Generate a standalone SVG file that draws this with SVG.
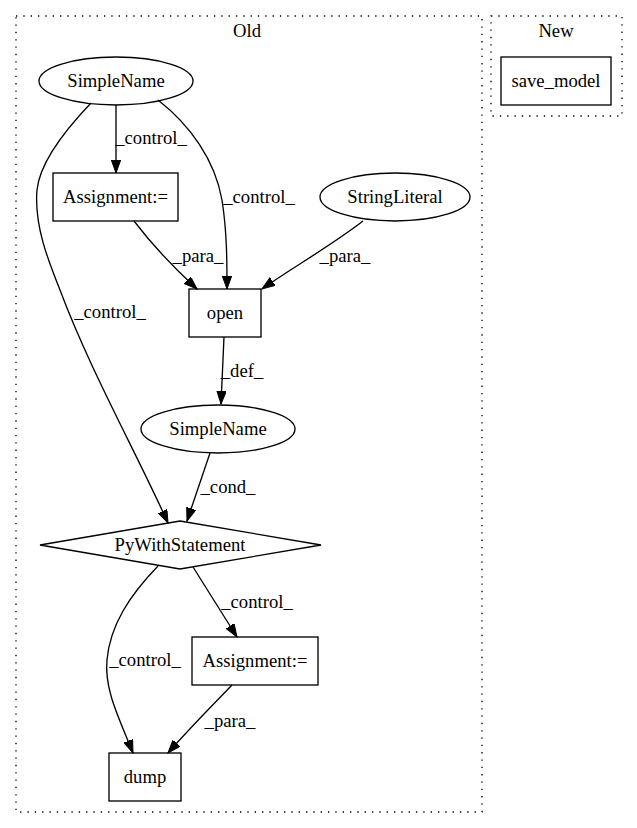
<svg xmlns="http://www.w3.org/2000/svg" width="637" height="828" viewBox="0 0 637 828">
<style>
text{font-family:"Liberation Serif","Times New Roman",serif;font-size:18.67px;fill:#000;text-anchor:middle}
.cl{fill:none;stroke:#000;stroke-width:1.33;stroke-dasharray:1.33,6}
.n{fill:none;stroke:#000;stroke-width:1.33}
.e{fill:none;stroke:#000;stroke-width:1.33;marker-end:url(#ah)}
</style>
<defs>
<marker id="ah" markerUnits="userSpaceOnUse" markerWidth="14" markerHeight="10" refX="13" refY="4.7" orient="auto">
<path d="M0,0 L13,4.7 L0,9.4 Z" fill="#000" stroke="#000" stroke-width="1"/>
</marker>
</defs>
<g id="cluster_old">
<rect class="cl" x="16" y="16" width="466" height="796"/>
<text x="247" y="37">Old</text>
</g>
<g id="cluster_new">
<rect class="cl" x="491" y="16" width="131" height="100"/>
<text x="556" y="37">New</text>
</g>
<g id="save_model"><rect class="n" x="501" y="57" width="110" height="48"/><text x="556" y="87">save_model</text></g>
<g id="simplename1"><ellipse class="n" cx="116" cy="81" rx="77" ry="24"/><text x="116" y="87">SimpleName</text></g>
<g id="assignment1"><rect class="n" x="53" y="173" width="125" height="48"/><text x="115.5" y="203">Assignment:=</text></g>
<g id="stringliteral"><ellipse class="n" cx="395" cy="197" rx="75" ry="24"/><text x="395" y="203">StringLiteral</text></g>
<g id="open"><rect class="n" x="189" y="289" width="72" height="48"/><text x="225" y="319">open</text></g>
<g id="simplename2"><ellipse class="n" cx="218" cy="429" rx="77" ry="24"/><text x="218" y="435">SimpleName</text></g>
<g id="pywith"><polygon class="n" points="180,521 321,545 180,569 40,545"/><text x="180" y="551">PyWithStatement</text></g>
<g id="assignment2"><rect class="n" x="192" y="637" width="126" height="48"/><text x="255" y="667">Assignment:=</text></g>
<g id="dump"><rect class="n" x="109" y="753" width="72" height="48"/><text x="145" y="783">dump</text></g>
<g id="edges">
<path class="e" d="M116,105 L116,173"/>
<text x="151" y="144">_control_</text>
<path class="e" d="M158,100 C190,125 215,160 222,200 C227,232 227,262 227,289"/>
<text x="259" y="203">_control_</text>
<path class="e" d="M91,103 C70,125 40,160 37,190 C34,225 48,260 60,290 C90,370 135,450 168,523"/>
<text x="110" y="318">_control_</text>
<path class="e" d="M134,221 C150,242 172,266 197,289"/>
<text x="198" y="262">_para_</text>
<path class="e" d="M363,221 C332,245 292,268 262,289"/>
<text x="345" y="262">_para_</text>
<path class="e" d="M224,337 L221,404"/>
<text x="242" y="377">_def_</text>
<path class="e" d="M210,453 L187,521"/>
<text x="228" y="493">_cond_</text>
<path class="e" d="M193,567 L237,637"/>
<text x="257" y="608">_control_</text>
<path class="e" d="M158,566 C130,595 110,625 107,660 C104,690 120,720 133,753"/>
<text x="145" y="666">_control_</text>
<path class="e" d="M232,685 C210,708 188,730 168,753"/>
<text x="230" y="727">_para_</text>
</g>
</svg>
